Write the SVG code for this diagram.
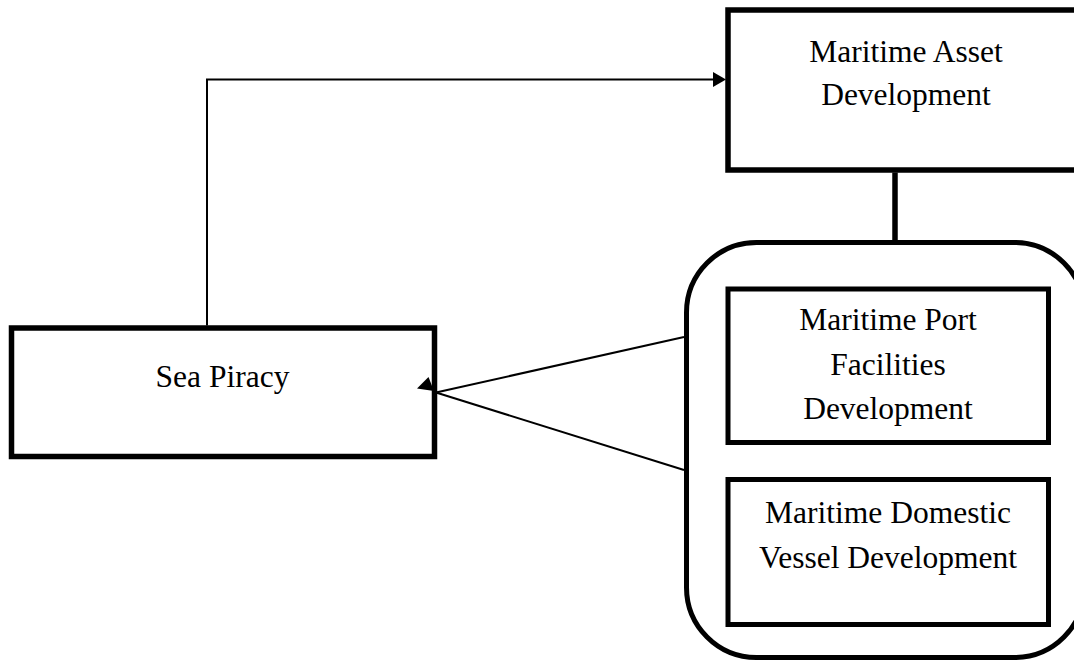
<svg xmlns="http://www.w3.org/2000/svg" width="1074" height="662" viewBox="0 0 1074 662">
<style>
.box{fill:#fff;stroke:#000;stroke-width:5.5}
.lbl{font-family:"Liberation Serif","Times New Roman",serif;font-size:31.5px;fill:#000;text-anchor:middle}
.thin{fill:none;stroke:#000;stroke-width:2}
.thick{fill:none;stroke:#000;stroke-width:5.5}
</style>
<rect width="1074" height="662" fill="#fff"/>
<g id="maritime-asset">
<rect class="box" x="728" y="10" width="360" height="160"/>
<text class="lbl" x="906" y="62">Maritime Asset</text>
<text class="lbl" x="906" y="105">Development</text>
</g>
<g id="group-container">
<rect class="box" x="686.5" y="242.5" width="398" height="415" rx="70" ry="70" style="stroke-width:5"/>
</g>
<g id="port-facilities">
<rect class="box" x="728" y="289" width="320.5" height="153.5" style="stroke-width:5"/>
<text class="lbl" x="888" y="330">Maritime Port</text>
<text class="lbl" x="888" y="375">Facilities</text>
<text class="lbl" x="888" y="419">Development</text>
</g>
<g id="domestic-vessel">
<rect class="box" x="728" y="479.5" width="320.5" height="145" style="stroke-width:5"/>
<text class="lbl" x="888" y="523">Maritime Domestic</text>
<text class="lbl" x="888" y="568">Vessel Development</text>
</g>
<g id="sea-piracy">
<rect class="box" x="11.5" y="328" width="423" height="128.5"/>
<text class="lbl" x="222.5" y="387">Sea Piracy</text>
</g>
<g id="connectors">
<polyline class="thin" points="207,325.5 207,79.5 714,79.5"/>
<polygon points="726,79.5 713,72 713,87" fill="#000"/>
<line class="thick" x1="895" y1="172.5" x2="895" y2="240.5"/>
<line class="thin" x1="684" y1="337" x2="436" y2="392.5"/>
<line class="thin" x1="684" y1="470" x2="436" y2="392.5"/>
<polygon points="428.5,377 417,388.5 434,391" fill="#000"/>
</g>
</svg>
